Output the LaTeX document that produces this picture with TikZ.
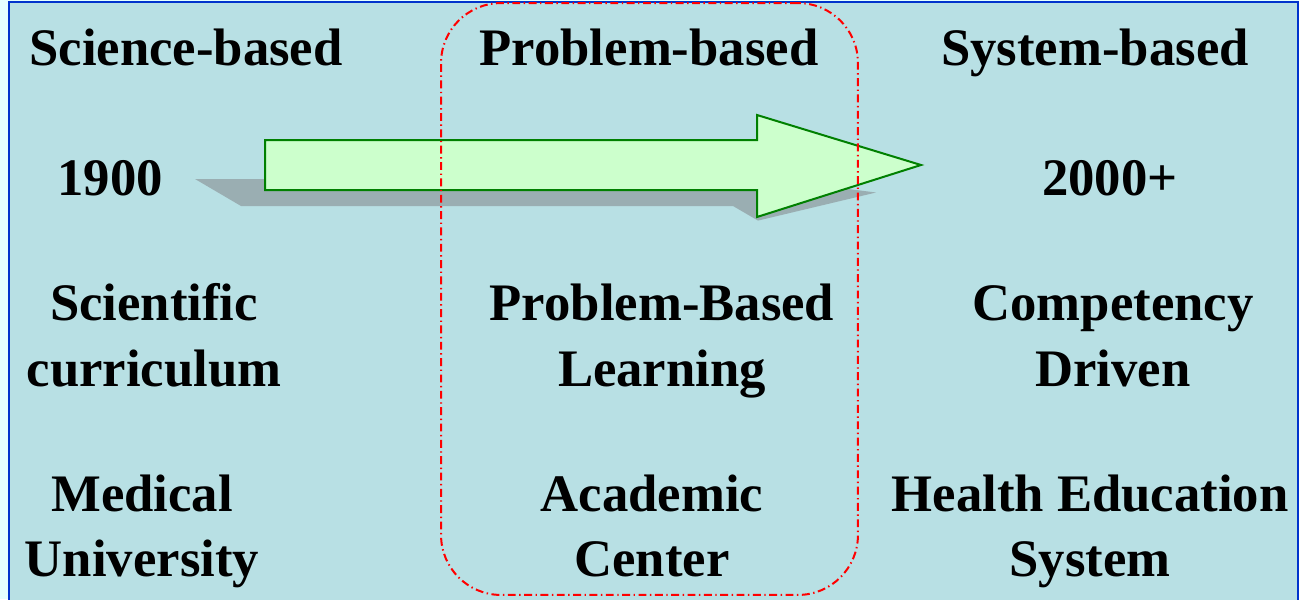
\documentclass[tikz,border=0pt]{standalone}
\usepackage{fontspec}
\setmainfont{Liberation Serif}
\usetikzlibrary{positioning}
\definecolor{pagecyan}{RGB}{228, 255, 255}
\definecolor{paneteal}{RGB}{184, 224, 228}
\definecolor{paneblue}{RGB}{0, 51, 204}
\definecolor{arrowgreen}{RGB}{204, 255, 204}
\definecolor{arrowedge}{RGB}{0, 128, 0}
\definecolor{shadowgray}{RGB}{154, 174, 178}

\begin{document}
\begin{tikzpicture}[x=0.02cm, y=-0.02cm,
pane/.style={draw=paneblue!100, fill=paneteal!100, line width=0.4mm},
labelnode/.style={font=\bfseries\fontsize{30}{37}\selectfont, inner sep=0pt, align=center, anchor=base},
stage_frame/.style={rounded corners=1.2cm, draw=red!100, line width=0.4mm, dash pattern=on 4.5pt off 2pt on 0.8pt off 2pt, minimum width=8.34cm, minimum height=11.84cm},
bigarrow/.style={draw=arrowedge!100, fill=arrowgreen!100, line width=0.4mm},
arrowshadow/.style={fill=shadowgray!100}
]
%Background
\useasboundingbox[fill=pagecyan] (0,0) rectangle (1299,599);
\draw[pane] (9,2) rectangle (1298,640);

%Arrow
\fill[arrowshadow] (195,179) -- (687,179) -- (664,165.5) -- (876,192.5) -- (758,220.6) -- (733,206) -- (241,206) -- cycle;
\draw[bigarrow] (265,140) -- (757,140) -- (757,115) -- (921,165) -- (757,217) -- (757,190) -- (265,190) -- cycle;

%Frame of middle column
\node[stage_frame] (stage_frame) at (649.5,299) {};

%Nodes left column
\node[labelnode] (science_head) at (186,65) {Science-based};
\node[labelnode] (year_start)   at (110,195) {1900};
\node[labelnode] (science_curr) at (154,386) {Scientific\\curriculum};
\node[labelnode] (science_inst) at (142,576) {Medical\\University};

%Nodes middle column
\node[labelnode] (problem_head) at (649,65) {Problem-based};
\node[labelnode] (problem_curr) at (662,386) {Problem-Based\\Learning};
\node[labelnode] (problem_inst) at (652,576) {Academic\\Center};

%Nodes right column
\node[labelnode] (system_head) at (1095,65) {System-based};
\node[labelnode] (year_end)    at (1110,195) {2000+};
\node[labelnode] (system_curr) at (1113,386) {Competency\\Driven};
\node[labelnode] (system_inst) at (1090,576) {Health Education\\System};

\end{tikzpicture}
\end{document}
